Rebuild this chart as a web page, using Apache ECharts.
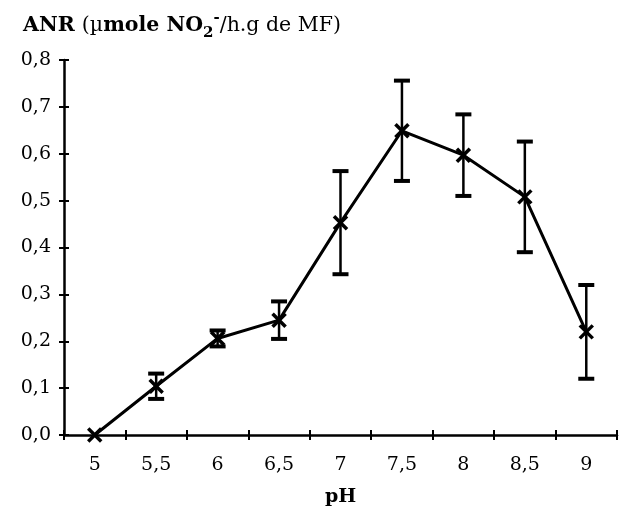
<!DOCTYPE html>
<html>
<head>
<meta charset="utf-8">
<script src="https://cdn.jsdelivr.net/npm/echarts@6/dist/echarts.min.js"></script>
<style>html,body{margin:0;padding:0;background:#fff}#c{width:628px;height:514px}</style>
</head>
<body>
<div id="c"></div>
<script>
const categories = ['5', '5,5', '6', '6,5', '7', '7,5', '8', '8,5', '9'];
const meanValues = [0.0, 0.104, 0.206, 0.245, 0.453, 0.649, 0.597, 0.508, 0.220];
const errorValues = [0.0, 0.027, 0.017, 0.04, 0.11, 0.107, 0.087, 0.118, 0.10];
const yTicks = { min: 0, max: 0.8, interval: 0.1 };

const FONT = 'DejaVu Serif';
const errData = meanValues.map((m, i) => [i, m, errorValues[i]]);

const chart = echarts.init(document.getElementById('c'), null, { renderer: 'canvas' });
chart.setOption({
  animation: false,
  backgroundColor: '#fff',
  title: {
    left: 18, top: 6,
    text: '{b|ANR }{n|(µ}{b|mole NO}{sub|2}{sup|-}{n|/h.g de MF)}',
    textStyle: {
      fontWeight: 'normal',
      rich: {
        b: { fontFamily: FONT, fontWeight: 'bold', fontSize: 20.5, color: '#000', lineHeight: 30, verticalAlign: 'middle' },
        n: { fontFamily: FONT, fontWeight: 'normal', fontSize: 20.5, color: '#000', lineHeight: 30, verticalAlign: 'middle' },
        sub: { fontFamily: FONT, fontWeight: 'bold', fontSize: 15, color: '#000', lineHeight: 30, verticalAlign: 'bottom' },
        sup: { fontFamily: FONT, fontWeight: 'bold', fontSize: 15, color: '#000', lineHeight: 30, verticalAlign: 'top' }
      }
    }
  },
  grid: { left: 64, right: 11, top: 60, bottom: 79, containLabel: false },
  xAxis: [{
    type: 'category', data: categories, boundaryGap: true, position: 'bottom',
    name: 'pH', nameLocation: 'middle', nameGap: 53,
    nameTextStyle: { fontFamily: FONT, fontWeight: 'bold', fontSize: 19, color: '#000' },
    axisLine: { show: true, lineStyle: { color: '#000', width: 2.5 } },
    axisTick: { show: true, inside: false, length: 5, lineStyle: { color: '#000', width: 2 } },
    axisLabel: { fontFamily: FONT, fontSize: 19, color: '#000', margin: 21 },
    splitLine: { show: false }
  }, {
    type: 'category', data: categories, boundaryGap: true, position: 'bottom',
    axisLine: { show: false },
    axisTick: { show: true, inside: true, length: 5, lineStyle: { color: '#000', width: 2 } },
    axisLabel: { show: false },
    splitLine: { show: false }
  }],
  yAxis: [{
    type: 'value', min: yTicks.min, max: yTicks.max, interval: yTicks.interval, position: 'left',
    axisLine: { show: true, lineStyle: { color: '#000', width: 2.5 } },
    axisTick: { show: true, inside: false, length: 5, lineStyle: { color: '#000', width: 2 } },
    axisLabel: { fontFamily: FONT, fontSize: 19, color: '#000', margin: 13,
      formatter: v => v.toFixed(1).replace('.', ',') },
    splitLine: { show: false }
  }, {
    type: 'value', min: yTicks.min, max: yTicks.max, interval: yTicks.interval, position: 'left',
    axisLine: { show: false },
    axisTick: { show: true, inside: true, length: 5, lineStyle: { color: '#000', width: 2 } },
    axisLabel: { show: false },
    splitLine: { show: false }
  }],
  series: [{
    type: 'line', data: meanValues, xAxisIndex: 0, yAxisIndex: 0,
    showSymbol: false, symbol: 'none',
    lineStyle: { color: '#000', width: 3 }, z: 2
  }, {
    type: 'custom', data: errData, xAxisIndex: 0, yAxisIndex: 0, z: 3,
    renderItem: function (params, api) {
      const i = api.value(0), m = api.value(1), e = api.value(2);
      const c = api.coord([i, m]);
      const children = [];
      const cap = 8, s = 6.5;
      if (e > 0) {
        const hi = api.coord([i, m + e]), lo = api.coord([i, m - e]);
        children.push({ type: 'line', shape: { x1: c[0], y1: hi[1], x2: c[0], y2: lo[1] }, style: { stroke: '#000', lineWidth: 2.5 } });
        children.push({ type: 'line', shape: { x1: c[0] - cap, y1: hi[1], x2: c[0] + cap, y2: hi[1] }, style: { stroke: '#000', lineWidth: 4 } });
        children.push({ type: 'line', shape: { x1: c[0] - cap, y1: lo[1], x2: c[0] + cap, y2: lo[1] }, style: { stroke: '#000', lineWidth: 4 } });
      }
      children.push({ type: 'line', shape: { x1: c[0] - s, y1: c[1] - s, x2: c[0] + s, y2: c[1] + s }, style: { stroke: '#000', lineWidth: 3.5 } });
      children.push({ type: 'line', shape: { x1: c[0] - s, y1: c[1] + s, x2: c[0] + s, y2: c[1] - s }, style: { stroke: '#000', lineWidth: 3.5 } });
      return { type: 'group', children: children };
    }
  }]
});
</script>
</body>
</html>
